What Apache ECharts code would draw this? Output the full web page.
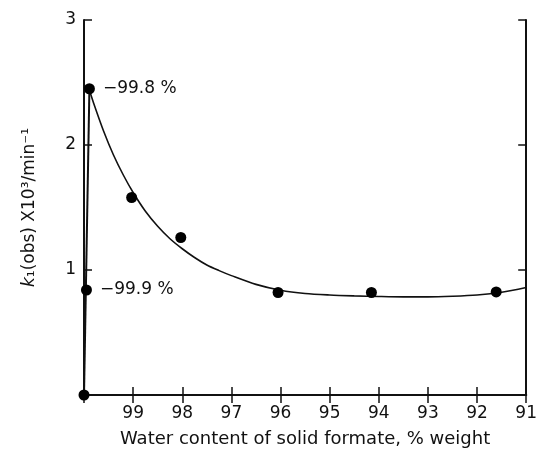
<!DOCTYPE html>
<html>
<head>
<meta charset="utf-8">
<script src="https://cdn.jsdelivr.net/npm/echarts@6/dist/echarts.min.js"></script>
<style>html,body{margin:0;padding:0;background:#fff}#c{width:540px;height:458px}</style>
</head>
<body>
<div id="c"></div>
<script>
// Data
var xTickLabels = [99, 98, 97, 96, 95, 94, 93, 92, 91];
var yTickLabels = [1, 2, 3];
var pointX = [100.0, 99.95, 99.89, 99.03, 98.03, 96.05, 94.15, 91.61];
var pointY = [0.0, 0.84, 2.45, 1.58, 1.26, 0.82, 0.82, 0.825];
var pointNotes = ['', '\u221299.9 %', '\u221299.8 %', '', '', '', '', ''];
var riseX = [100.0, 99.89];
var riseY = [0.0, 2.45];
var curveX = [99.89, 99.8, 99.6, 99.4, 99.2, 99.0, 98.75, 98.5, 98.25, 98.0, 97.75, 97.5, 97.25, 97.0, 96.5, 96.0, 95.5, 95.0, 94.5, 94.0, 93.5, 93.0, 92.5, 92.0, 91.5, 91.0];
var curveY = [2.44, 2.33, 2.11, 1.92, 1.76, 1.62, 1.47, 1.35, 1.25, 1.17, 1.10, 1.04, 0.995, 0.955, 0.885, 0.838, 0.812, 0.80, 0.793, 0.788, 0.785, 0.785, 0.79, 0.80, 0.822, 0.86];

var FONT = 'DejaVu Sans';
var INK = '#111';

var pts = pointX.map(function (x, i) {
  var item = { value: [x, pointY[i]] };
  if (pointNotes[i]) {
    item.label = { show: true, formatter: pointNotes[i], position: 'right', distance: 8,
      color: INK, fontFamily: FONT, fontSize: 17, opacity: 1 };
  }
  return item;
});
var rise = riseX.map(function (x, i) { return [x, riseY[i]]; });
var curve = curveX.map(function (x, i) { return [x, curveY[i]]; });

var axisLine = { show: true, lineStyle: { color: INK, width: 2 } };
var tick = { show: true, inside: true, length: 8, lineStyle: { color: INK, width: 1.5 } };

var chart = echarts.init(document.getElementById('c'), null, { renderer: 'canvas' });
chart.setOption({
  animation: false,
  backgroundColor: '#fff',
  grid: { left: 84, right: 7, top: 20, bottom: 63, containLabel: false },
  xAxis: [{
    type: 'value', min: 91, max: 100, interval: 1, inverse: true,
    position: 'bottom',
    axisLine: axisLine, axisTick: tick, splitLine: { show: false },
    axisLabel: { color: INK, fontFamily: FONT, fontSize: 17, margin: 10,
      formatter: function (v) { return xTickLabels.indexOf(v) >= 0 ? String(v) : ''; } },
    name: 'Water content of solid formate, % weight',
    nameLocation: 'middle', nameGap: 35,
    nameTextStyle: { color: INK, fontFamily: FONT, fontSize: 18 }
  }, {
    type: 'value', min: 91, max: 100, interval: 1, inverse: true,
    position: 'top',
    axisLine: axisLine, axisTick: tick, splitLine: { show: false },
    axisLabel: { show: false }
  }],
  yAxis: [{
    type: 'value', min: 0, max: 3, interval: 1,
    position: 'left',
    axisLine: axisLine, axisTick: tick, splitLine: { show: false },
    axisLabel: { color: INK, fontFamily: FONT, fontSize: 17, margin: 8,
      formatter: function (v) { return yTickLabels.indexOf(v) >= 0 ? String(v) : ''; } },
    name: '{i|k}\u2081(obs) X10\u00b3/min\u207b\u00b9',
    nameLocation: 'middle', nameGap: 46,
    nameTextStyle: { color: INK, fontFamily: FONT, fontSize: 17,
      rich: { i: { fontStyle: 'italic', fontFamily: FONT, fontSize: 17, color: INK } } }
  }, {
    type: 'value', min: 0, max: 3, interval: 1,
    position: 'right',
    axisLine: axisLine, axisTick: tick, splitLine: { show: false },
    axisLabel: { show: false }
  }],
  series: [{
    type: 'line', data: rise, xAxisIndex: 0, yAxisIndex: 0,
    symbol: 'none', lineStyle: { color: INK, width: 2 }, z: 2
  }, {
    type: 'line', data: curve, xAxisIndex: 0, yAxisIndex: 0, smooth: 0.3,
    symbol: 'none', lineStyle: { color: INK, width: 1.6 }, z: 2
  }, {
    type: 'scatter', data: pts, xAxisIndex: 0, yAxisIndex: 0,
    symbol: 'circle', symbolSize: 11, itemStyle: { color: '#000', opacity: 1 }, z: 3
  }]
});
</script>
</body>
</html>
